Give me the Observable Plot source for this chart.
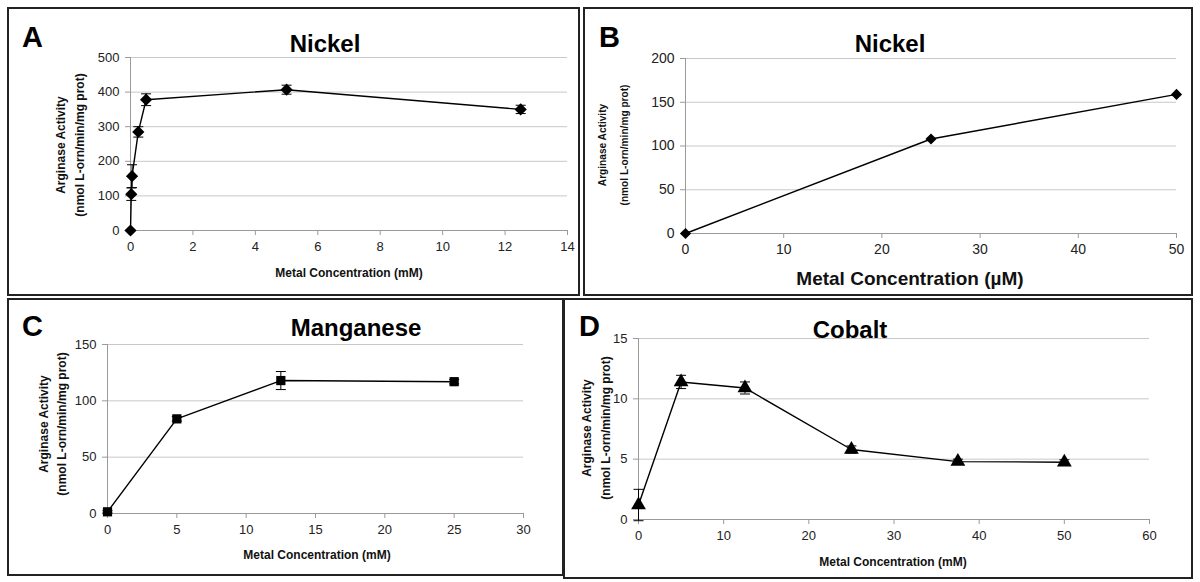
<!DOCTYPE html>
<html>
<head>
<meta charset="utf-8">
<script src="https://cdn.jsdelivr.net/npm/d3@7"></script>
<script src="https://cdn.jsdelivr.net/npm/@observablehq/plot@0.6"></script>
<style>
  html, body { margin: 0; padding: 0; background: #fff; }
  #root { position: relative; width: 1200px; height: 582px; overflow: hidden; font-family: "Liberation Sans", Arial, sans-serif; }
  .box { position: absolute; border: 2px solid #222; box-sizing: border-box; }
  .box svg { position: absolute; left: 0; top: 0; overflow: visible; }
  .lbl { position: absolute; font-weight: bold; color: #000; white-space: nowrap; line-height: 1; }
  .ytitle { position: absolute; font-weight: bold; font-size: 12px; color: #111; white-space: nowrap; text-align: center; line-height: 20px; transform: translate(-50%, -50%) rotate(-90deg); }
</style>
</head>
<body>
<div id="root"></div>
<script>
// ---- Data ----
// Panel A: Nickel (mM)
const nickelA_x = [0, 0.025, 0.05, 0.25, 0.5, 5, 12.5];
const nickelA_y = [0, 105, 157, 285, 378, 407, 350];
const nickelA_err = [0, 18, 33, 15, 17, 13, 12];
const nickelA_xticks = [0, 2, 4, 6, 8, 10, 12, 14];
const nickelA_yticks = [0, 100, 200, 300, 400, 500];

// Panel B: Nickel (µM)
const nickelB_x = [0, 25, 50];
const nickelB_y = [0, 108, 159];
const nickelB_xticks = [0, 10, 20, 30, 40, 50];
const nickelB_yticks = [0, 50, 100, 150, 200];

// Panel C: Manganese (mM)
const mn_x = [0, 5, 12.5, 25];
const mn_y = [1.5, 84, 118, 117];
const mn_err = [1, 2, 8, 2];
const mn_xticks = [0, 5, 10, 15, 20, 25, 30];
const mn_yticks = [0, 50, 100, 150];

// Panel D: Cobalt (mM)
const co_x = [0, 5, 12.5, 25, 37.5, 50];
const co_y = [1.2, 11.4, 10.9, 5.8, 4.8, 4.75];
const co_err = [1.3, 0.55, 0.5, 0.3, 0.2, 0.2];
const co_xticks = [0, 10, 20, 30, 40, 50, 60];
const co_yticks = [0, 5, 10, 15];

const panelLetters = ["A", "B", "C", "D"];
const panelTitles = ["Nickel", "Nickel", "Manganese", "Cobalt"];
const yTitle1 = "Arginase Activity";
const yTitle2 = "(nmol L-orn/min/mg prot)";
const xTitleMM = "Metal Concentration (mM)";
const xTitleUM = "Metal Concentration (µM)";

// horizontal cap symbol for error bars
const capSymbol = {
  draw(context, size) {
    const r = Math.sqrt(size / Math.PI);
    context.moveTo(-r, 0);
    context.lineTo(r, 0);
  }
};

function rows(xs, ys, es) {
  return xs.map((x, i) => ({x, y: ys[i], e: es ? es[i] : 0}));
}

const root = document.getElementById("root");

function panel(cfg) {
  const box = document.createElement("div");
  box.className = "box";
  Object.assign(box.style, {left: cfg.left + "px", top: cfg.top + "px", width: cfg.width + "px", height: cfg.height + "px"});
  root.appendChild(box);

  const data = rows(cfg.xs, cfg.ys, cfg.es);
  const withErr = data.filter(d => d.e > 0);
  const marks = [
    Plot.gridY(cfg.yticks, {stroke: "#c8c8c8", strokeOpacity: 1, strokeWidth: 1}),
    Plot.ruleX([cfg.xdomain[0]], {stroke: "#9a9a9a", strokeWidth: 1}),
    Plot.ruleY([cfg.ydomain[0]], {stroke: "#9a9a9a", strokeWidth: 1}),
    Plot.axisX({ticks: cfg.xticks, tickSize: 5, tickPadding: 6, stroke: "#9a9a9a", fontSize: cfg.tickFont, fill: "#222", label: null}),
    Plot.axisY({ticks: cfg.yticks, tickSize: 5, tickPadding: 6, stroke: "#9a9a9a", fontSize: cfg.tickFont, fill: "#222", label: null}),
    Plot.ruleX(withErr, {x: "x", y1: d => d.y - d.e, y2: d => d.y + d.e, stroke: "#000", strokeWidth: 1}),
    Plot.dot(withErr, {x: "x", y: d => d.y + d.e, symbol: capSymbol, r: 5, stroke: "#000", strokeWidth: 1, fill: "none"}),
    Plot.dot(withErr, {x: "x", y: d => d.y - d.e, symbol: capSymbol, r: 5, stroke: "#000", strokeWidth: 1, fill: "none"}),
    Plot.line(data, {x: "x", y: "y", stroke: "#000", strokeWidth: 1.4}),
    Plot.dot(data, {x: "x", y: "y", symbol: cfg.symbol, r: cfg.r, fill: "#000", stroke: "none"})
  ];
  const svgW = cfg.width - 4, svgH = cfg.height - 4;
  const chart = Plot.plot({
    width: svgW,
    height: svgH,
    marginLeft: cfg.ml, marginRight: svgW - cfg.ml - cfg.pw,
    marginTop: cfg.mt, marginBottom: svgH - cfg.mt - cfg.ph,
    x: {domain: cfg.xdomain},
    y: {domain: cfg.ydomain},
    style: {fontFamily: "'Liberation Sans', Arial, sans-serif", background: "transparent", overflow: "visible"},
    marks
  });
  box.appendChild(chart);

  // panel letter
  const L = document.createElement("div");
  L.className = "lbl";
  L.textContent = cfg.letter;
  Object.assign(L.style, {left: cfg.letterX + "px", top: cfg.letterY + "px", fontSize: "29px"});
  box.appendChild(L);

  // title
  const T = document.createElement("div");
  T.className = "lbl";
  T.textContent = cfg.title;
  Object.assign(T.style, {left: cfg.titleX + "px", top: cfg.titleY + "px", fontSize: "24px", transform: "translateX(-50%)"});
  box.appendChild(T);

  // x title
  const X = document.createElement("div");
  X.className = "lbl";
  X.textContent = cfg.xtitle;
  Object.assign(X.style, {left: cfg.xtX + "px", top: cfg.xtY + "px", fontSize: cfg.xtFont + "px", color: "#111", transform: "translateX(-50%)" + (cfg.xtScale ? " scaleX(" + cfg.xtScale + ")" : "")});
  box.appendChild(X);

  // y title (two lines, rotated)
  const Y = document.createElement("div");
  Y.className = "ytitle";
  Y.innerHTML = yTitle1 + "<br>" + yTitle2;
  Object.assign(Y.style, {left: cfg.ytX + "px", top: cfg.ytY + "px", fontSize: cfg.ytFont + "px", lineHeight: cfg.ytLH + "px"});
  if (cfg.ytScale) Y.style.transform = "translate(-50%, -50%) rotate(-90deg) scaleX(" + cfg.ytScale + ")";
  box.appendChild(Y);
}

// Panel A
panel({
  left: 7, top: 7, width: 573, height: 289,
  xs: nickelA_x, ys: nickelA_y, es: nickelA_err,
  xdomain: [0, 14], ydomain: [0, 500], xticks: nickelA_xticks, yticks: nickelA_yticks,
  ml: 121, pw: 437, mt: 48, ph: 173, tickFont: 13,
  symbol: "diamond2", r: 5.5,
  letter: panelLetters[0], letterX: 13, letterY: 14,
  title: panelTitles[0], titleX: 316, titleY: 23,
  xtitle: xTitleMM, xtX: 340, xtY: 258, xtFont: 12,
  ytX: 62, ytY: 136, ytFont: 12, ytLH: 19
});

// Panel B
panel({
  left: 583, top: 7, width: 610, height: 289,
  xs: nickelB_x, ys: nickelB_y, es: null,
  xdomain: [0, 50], ydomain: [0, 200], xticks: nickelB_xticks, yticks: nickelB_yticks,
  ml: 100, pw: 491, mt: 49, ph: 175, tickFont: 14,
  symbol: "diamond2", r: 5,
  letter: panelLetters[1], letterX: 14, letterY: 14,
  title: panelTitles[1], titleX: 305, titleY: 23,
  xtitle: xTitleUM, xtX: 325, xtY: 260, xtFont: 19,
  ytX: 28, ytY: 136, ytFont: 11, ytLH: 22, ytScale: 0.92
});

// Panel C
panel({
  left: 7, top: 298, width: 557, height: 278,
  xs: mn_x, ys: mn_y, es: mn_err,
  xdomain: [0, 30], ydomain: [0, 150], xticks: mn_xticks, yticks: mn_yticks,
  ml: 98, pw: 416, mt: 44, ph: 169, tickFont: 13,
  symbol: "square", r: 5.2,
  letter: panelLetters[2], letterX: 13, letterY: 12,
  title: panelTitles[2], titleX: 347, titleY: 16,
  xtitle: xTitleMM, xtX: 308, xtY: 249, xtFont: 12,
  ytX: 44, ytY: 124, ytFont: 12, ytLH: 18
});

// Panel D
panel({
  left: 563, top: 298, width: 630, height: 281,
  xs: co_x, ys: co_y, es: co_err,
  xdomain: [0, 60], ydomain: [0, 15], xticks: co_xticks, yticks: co_yticks,
  ml: 73, pw: 511, mt: 38, ph: 181, tickFont: 13,
  symbol: "triangle", r: 5.5,
  letter: panelLetters[3], letterX: 14, letterY: 12,
  title: panelTitles[3], titleX: 285, titleY: 18,
  xtitle: xTitleMM, xtX: 328, xtY: 256, xtFont: 12,
  ytX: 32, ytY: 128, ytFont: 12, ytLH: 19
});
</script>
</body>
</html>
